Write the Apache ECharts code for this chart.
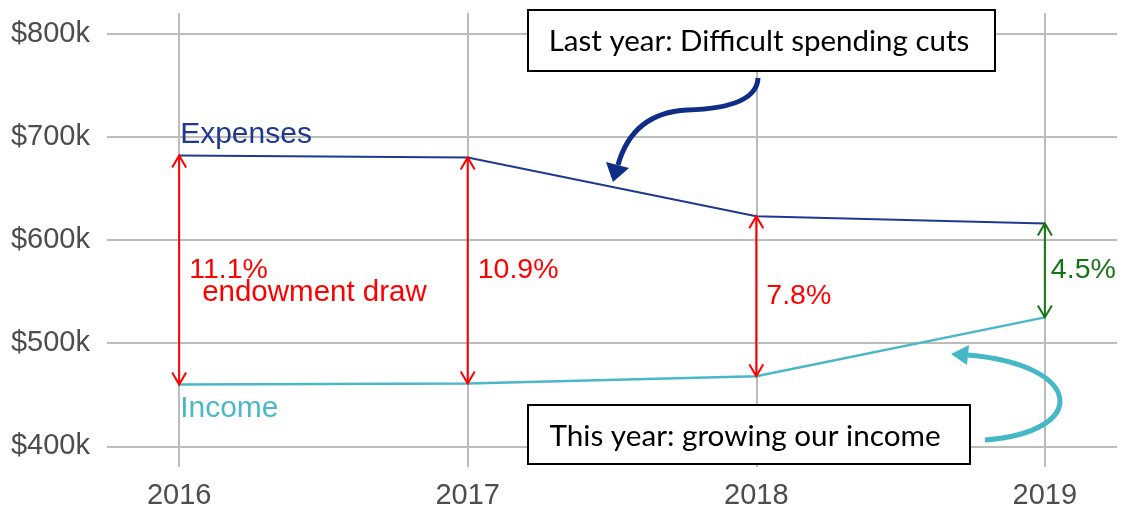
<!DOCTYPE html>
<html>
<head>
<meta charset="utf-8">
<script src="https://cdn.jsdelivr.net/npm/echarts@6/dist/echarts.min.js"></script>
<style>
  html, body { margin: 0; background: #fff; }
  #chart { width: 1123px; height: 512px; }
</style>
</head>
<body>
<div id="chart"></div>
<script>
// data, in $k
const years = [2016, 2017, 2018, 2019]
const expenses = [682, 680, 623, 616]
const income = [460, 461, 468, 525]
const drawLabels = ['11.1%', '10.9%', '7.8%', '4.5%']
const gapColors = ['#ff0000', '#ff0000', '#ff0000', '#157515']
const yTicks = [400, 500, 600, 700, 800]

const navy = '#1f3990'
const teal = '#4ab8c7'
const gridColor = '#bcbcbc'
const labelFont = '"Liberation Sans", Arial, sans-serif'
const noteFont = 'Lato, "Open Sans", sans-serif'

const myChart = echarts.init(document.getElementById('chart'))

// 差额箭头 + 文字
function renderGap(params, api) {
  const i = params.dataIndex
  const x = api.value(0)
  const top = api.coord([x, api.value(1)])
  const bot = api.coord([x, api.value(2)])
  const col = gapColors[i]
  const h = 12, w = 7
  const mid = (top[1] + bot[1]) / 2
  const children = [
    { type: 'line', shape: { x1: top[0], y1: top[1], x2: bot[0], y2: bot[1] }, style: { stroke: col, lineWidth: 2 } },
    { type: 'polyline', shape: { points: [[top[0] - w, top[1] + h], [top[0], top[1]], [top[0] + w, top[1] + h]] }, style: { stroke: col, lineWidth: 2, fill: null } },
    { type: 'polyline', shape: { points: [[bot[0] - w, bot[1] - h], [bot[0], bot[1]], [bot[0] + w, bot[1] - h]] }, style: { stroke: col, lineWidth: 2, fill: null } },
    { type: 'text', x: top[0] + (i === 3 ? 6 : 10), y: mid, style: { text: drawLabels[i], fill: col, font: '28.5px ' + labelFont, align: 'left', verticalAlign: 'middle' } }
  ]
  if (i === 0) {
    children.push({ type: 'text', x: top[0] + 23, y: mid + 23, style: { text: 'endowment draw', fill: col, font: '29.5px ' + labelFont, align: 'left', verticalAlign: 'middle' } })
    children.push({ type: 'text', x: top[0] + 1, y: top[1] - 21, style: { text: 'Expenses', fill: navy, font: '30px ' + labelFont, align: 'left', verticalAlign: 'middle' } })
    children.push({ type: 'text', x: bot[0] + 1, y: bot[1] + 24, style: { text: 'Income', fill: teal, font: '30px ' + labelFont, align: 'left', verticalAlign: 'middle' } })
  }
  return { type: 'group', children }
}

const option = {
  animation: false,
  grid: { left: 107, right: 6, top: 13, bottom: 45, containLabel: false },
  xAxis: {
    type: 'value',
    min: 2015.75,
    max: 2019.25,
    interval: 0.25,
    axisLine: { show: false },
    axisTick: { show: false },
    splitLine: { show: false },
    axisLabel: {
      margin: 14,
      fontSize: 29,
      fontFamily: labelFont,
      color: '#4d4d4d',
      formatter: v => Math.abs(v - Math.round(v)) < 1e-6 ? String(Math.round(v)) : ''
    }
  },
  yAxis: {
    type: 'value',
    min: 380,
    max: 820,
    interval: 20,
    axisLine: { show: false },
    axisTick: { show: false },
    splitLine: { show: false },
    axisLabel: {
      margin: 17,
      fontSize: 29,
      fontFamily: labelFont,
      color: '#4d4d4d',
      formatter: v => v % 100 === 0 ? '$' + v + 'k' : ''
    }
  },
  series: [
    {
      name: 'grid',
      type: 'line',
      data: [],
      silent: true,
      z: 1,
      markLine: {
        silent: true,
        z: 1,
        symbol: 'none',
        label: { show: false },
        lineStyle: { color: gridColor, width: 2, type: 'solid' },
        data: yTicks.map(v => ({ yAxis: v })).concat(years.map(y => ({ xAxis: y })))
      }
    },
    {
      name: 'Expenses',
      type: 'line',
      data: years.map((y, i) => [y, expenses[i]]),
      symbol: 'none',
      silent: true,
      z: 3,
      lineStyle: { color: navy, width: 2 }
    },
    {
      name: 'Income',
      type: 'line',
      data: years.map((y, i) => [y, income[i]]),
      symbol: 'none',
      silent: true,
      z: 3,
      lineStyle: { color: teal, width: 2.5 }
    },
    {
      name: 'gap',
      type: 'custom',
      data: years.map((y, i) => [y, expenses[i], income[i]]),
      renderItem: renderGap,
      silent: true,
      z: 4
    }
  ],
  graphic: [
    // 注释框 1
    { type: 'rect', shape: { x: 528, y: 10, width: 467, height: 61 }, style: { fill: '#fff', stroke: '#000', lineWidth: 2 }, z: 10 },
    { type: 'text', x: 759, y: 41, style: { text: 'Last year: Difficult spending cuts', font: '29.5px ' + noteFont, fill: '#000', align: 'center', verticalAlign: 'middle' }, z: 11 },
    { type: 'bezierCurve', shape: { x1: 758, y1: 78, cpx1: 757, cpy1: 102, cpx2: 722, cpy2: 109, x2: 687, y2: 110 }, style: { stroke: '#0f2c86', lineWidth: 5, fill: null }, z: 10 },
    { type: 'bezierCurve', shape: { x1: 687, y1: 110, cpx1: 648, cpy1: 112, cpx2: 627, cpy2: 133, x2: 618, y2: 165 }, style: { stroke: '#0f2c86', lineWidth: 5, fill: null }, z: 10 },
    { type: 'polygon', shape: { points: [[613, 182], [606, 162], [629, 168]] }, style: { fill: '#0f2c86' }, z: 10 },
    // 注释框 2
    { type: 'rect', shape: { x: 528, y: 405, width: 442, height: 59 }, style: { fill: '#fff', stroke: '#000', lineWidth: 2 }, z: 10 },
    { type: 'text', x: 745, y: 436, style: { text: 'This year: growing our income', font: '29.7px ' + noteFont, fill: '#000', align: 'center', verticalAlign: 'middle' }, z: 11 },
    { type: 'bezierCurve', shape: { x1: 985, y1: 440, cpx1: 1090, cpy1: 432, cpx2: 1085, cpy2: 365, x2: 968, y2: 355 }, style: { stroke: '#45b7c7', lineWidth: 5, fill: null }, z: 10 },
    { type: 'polygon', shape: { points: [[951, 354], [969, 345], [967, 365]] }, style: { fill: '#45b7c7' }, z: 10 }
  ]
}

myChart.setOption(option)
window.addEventListener('resize', () => myChart.resize())
</script>
</body>
</html>
